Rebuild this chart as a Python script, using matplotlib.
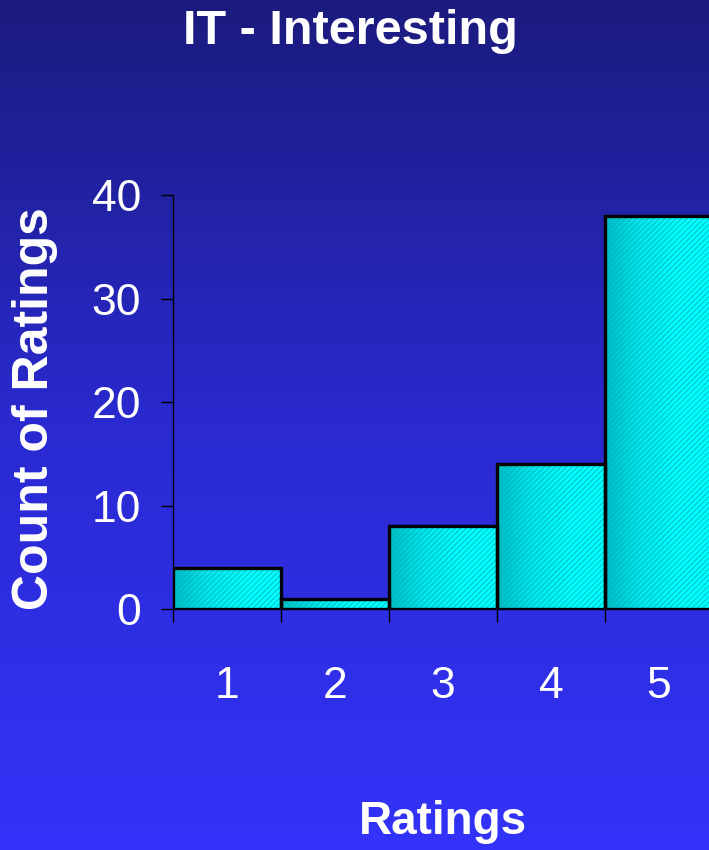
import numpy as np
import matplotlib
matplotlib.use("Agg")
import matplotlib.pyplot as plt
from matplotlib.colors import LinearSegmentedColormap

categories = ["1", "2", "3", "4", "5"]
counts = [4, 1, 8, 14, 38]
yticks = [0, 10, 20, 30, 40]
title = "IT - Interesting"
xlabel = "Ratings"
ylabel = "Count of Ratings"

plt.rcParams['font.family'] = ['Liberation Sans', 'DejaVu Sans']
plt.rcParams['hatch.linewidth'] = 0.6

fig = plt.figure(figsize=(7.09, 8.5), dpi=100)

# background gradient
bg = fig.add_axes([0, 0, 1, 1], zorder=-10)
bgcmap = LinearSegmentedColormap.from_list("bg", ["#1b1b7e", "#2a2ad0", "#3333fa"])
bg.imshow(np.linspace(0, 1, 256).reshape(-1, 1), aspect="auto", cmap=bgcmap,
          extent=[0, 1, 0, 1], origin="upper")
bg.set_axis_off()

ax = fig.add_axes([173/709, 241/850, 540/709, 414/850])
ax.patch.set_alpha(0)

x = np.arange(1, len(counts) + 1)
barcmap = LinearSegmentedColormap.from_list("bar", ["#00bcc4", "#00e8ee", "#00ffff", "#00ffff"])
grad = np.linspace(0, 1, 256).reshape(1, -1)
for xi, c in zip(x, counts):
    r = ax.bar(xi, c, width=1.0, color="none", linewidth=0, zorder=2)[0]
    im = ax.imshow(grad, aspect="auto", cmap=barcmap,
                   extent=[xi - 0.5, xi + 0.5, 0, c], zorder=2)
    im.set_clip_path(r)
ax.bar(x, counts, width=1.0, fill=False, hatch="//////", edgecolor="#00b4bc",
       linewidth=0, zorder=3)
ax.bar(x, counts, width=1.0, facecolor="none", edgecolor="black",
       linewidth=2.4, zorder=4)

ax.set_xlim(0.5, 5.5)
ax.set_ylim(0, 40)
ax.set_aspect("auto")

for s in ["top", "right"]:
    ax.spines[s].set_visible(False)
ax.spines["left"].set_color("black")
ax.spines["bottom"].set_color("black")
ax.spines["left"].set_linewidth(1.0)
ax.spines["bottom"].set_linewidth(1.0)

ax.set_yticks(yticks)
ax.set_yticklabels([str(v) for v in yticks])
ax.tick_params(axis="y", length=9, width=1, color="black", pad=14,
               labelsize=32, labelcolor="white")

ax.set_xticks(np.arange(0.5, 6.0, 1.0))
ax.set_xticklabels([])
ax.set_xticks(x, minor=True)
ax.set_xticklabels(categories, minor=True)
ax.tick_params(axis="x", which="major", length=9, width=1, color="black")
ax.tick_params(axis="x", which="minor", length=0, pad=41, labelsize=32,
               labelcolor="white")

fig.text(350/709, 1 - 31/850, title, ha="center", va="center", color="white",
         fontsize=35, fontweight="bold")
fig.text(443/709, 1 - 822/850, xlabel, ha="center", va="center", color="white",
         fontsize=33, fontweight="bold")
fig.text(35/709, 1 - 409/850, ylabel, ha="center", va="center", color="white",
         fontsize=36, fontweight="bold", rotation=90)

fig.savefig("out.png", dpi=100)
